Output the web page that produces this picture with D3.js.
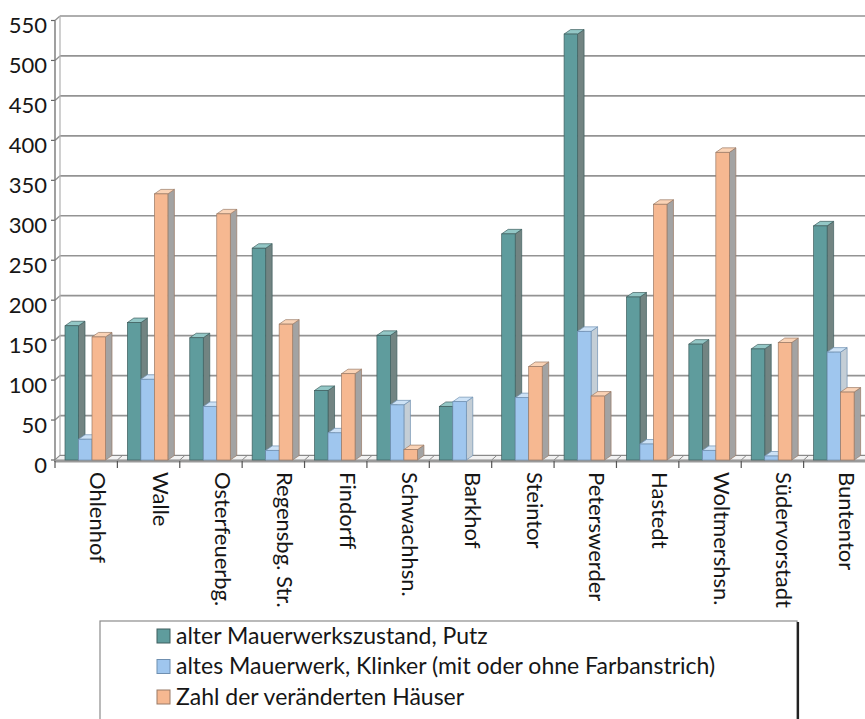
<!DOCTYPE html>
<html>
<head>
<meta charset="utf-8">
<script src="https://cdn.jsdelivr.net/npm/d3@7/dist/d3.min.js"></script>
<style>
  html, body { margin: 0; padding: 0; background: #fff; }
  svg { display: block; }
  text { font-family: Lato, "Open Sans", sans-serif; fill: #161616; }
</style>
</head>
<body>
<svg id="chart" width="865" height="719"></svg>
<script>
// Stadtteile (Bremen) und Anzahl der Häuser je Kategorie
const categories = ["Ohlenhof", "Walle", "Osterfeuerbg.", "Regensbg. Str.", "Findorff",
  "Schwachhsn.", "Barkhof", "Steintor", "Peterswerder", "Hastedt",
  "Woltmershsn.", "Südervorstadt", "Buntentor"];
const putz       = [168, 172, 153, 265,  87, 156, 67, 283, 533, 204, 145, 139, 293];
const klinker    = [ 26, 101,  67,  12,  34,  69, 73,  78, 161,  20,  12,   5, 135];
const veraendert = [154, 333, 308, 170, 108,  13,  0, 117,  80, 320, 385, 147,  85];
const yTicks = [0, 50, 100, 150, 200, 250, 300, 350, 400, 450, 500, 550];
const seriesNames = [
  "alter Mauerwerkszustand, Putz",
  "altes Mauerwerk, Klinker (mit oder ohne Farbanstrich)",
  "Zahl der veränderten Häuser"
];

const series = [
  { name: seriesNames[0], values: putz,
    front: "#5f9c9d", top: "#93c7c6", side: "#728482", edge: "#3f5e5e" },
  { name: seriesNames[1], values: klinker,
    front: "#9fc6ee", top: "#cde2f6", side: "#c4ced6", edge: "#6f8fb0" },
  { name: seriesNames[2], values: veraendert,
    front: "#f6b891", top: "#fad3b6", side: "#a3a3a3", edge: "#9a7a66" }
];

const svg = d3.select("#chart");

// Front plane and depth offsets of the pseudo-3D frame
const wallDx = 5, wallDy = 4.5;   // back wall behind the axis plane
const barDx = 6.5, barDy = 4.5;   // depth of each column
const plotRight = 866;

const y = d3.scaleLinear().domain([0, 550]).range([460, 20.5]);
const x = d3.scaleBand().domain(categories).range([55, plotRight]).padding(0);
const xs = d3.scaleBand().domain(d3.range(series.length)).range([10, 50.5]).padding(0);

// Back wall gridlines plus the short segments on the left side wall
const grid = svg.append("g");
yTicks.forEach(v => {
  const yf = y(v), yb = y(v) - wallDy;
  grid.append("line")
    .attr("x1", 55 + wallDx).attr("x2", 865)
    .attr("y1", yb).attr("y2", yb)
    .attr("stroke", "#939393").attr("stroke-width", 1.7);
  grid.append("line")
    .attr("x1", 55).attr("x2", 55 + wallDx)
    .attr("y1", yf).attr("y2", yb)
    .attr("stroke", "#939393").attr("stroke-width", 1.4);
  grid.append("line")
    .attr("x1", 51).attr("x2", 55)
    .attr("y1", yf).attr("y2", yf)
    .attr("stroke", "#666").attr("stroke-width", 1.2);
});
// Back wall left edge and front axis line
grid.append("line")
  .attr("x1", 55 + wallDx).attr("x2", 55 + wallDx)
  .attr("y1", y(550) - wallDy).attr("y2", y(0) - wallDy)
  .attr("stroke", "#b0b0b0").attr("stroke-width", 1.2);
grid.append("line")
  .attr("x1", 55).attr("x2", 55)
  .attr("y1", y(550)).attr("y2", y(0) + 2)
  .attr("stroke", "#777").attr("stroke-width", 1.4);

// Floor slab
const floor = svg.append("g");
const fy = y(0);
floor.append("path")
  .attr("d", `M55,${fy} L${plotRight},${fy} L${plotRight + wallDx},${fy - wallDy} L${55 + wallDx},${fy - wallDy} Z`)
  .attr("fill", "#f2f2f2").attr("stroke", "#8a8a8a").attr("stroke-width", 1);
floor.append("rect")
  .attr("x", 55).attr("y", fy).attr("width", plotRight - 55).attr("height", 2.5)
  .attr("fill", "#999");
// Category separators on the floor and ticks below
categories.forEach((c, i) => {
  const bx = x(c);
  if (i > 0) {
    floor.append("line")
      .attr("x1", bx).attr("x2", bx + wallDx)
      .attr("y1", fy).attr("y2", fy - wallDy)
      .attr("stroke", "#8a8a8a").attr("stroke-width", 1);
  }
  floor.append("line")
    .attr("x1", bx).attr("x2", bx)
    .attr("y1", fy + 1).attr("y2", fy + 8)
    .attr("stroke", "#555").attr("stroke-width", 1.2);
});

// Columns: front face, top face, right side face
const bars = svg.append("g");
categories.forEach((c, ci) => {
  series.forEach((s, si) => {
    const v = s.values[ci];
    if (!v) return;
    const x0 = x(c) + xs(si), w = xs.bandwidth();
    const yt = y(v), yb = y(0);
    const g = bars.append("g");
    g.append("path")
      .attr("d", `M${x0 + w},${yt} L${x0 + w + barDx},${yt - barDy} L${x0 + w + barDx},${yb - barDy} L${x0 + w},${yb} Z`)
      .attr("fill", s.side).attr("stroke", s.edge).attr("stroke-width", 0.7);
    g.append("path")
      .attr("d", `M${x0},${yt} L${x0 + w},${yt} L${x0 + w + barDx},${yt - barDy} L${x0 + barDx},${yt - barDy} Z`)
      .attr("fill", s.top).attr("stroke", s.edge).attr("stroke-width", 0.7);
    g.append("rect")
      .attr("x", x0).attr("y", yt).attr("width", w).attr("height", yb - yt)
      .attr("fill", s.front).attr("stroke", s.edge).attr("stroke-width", 0.7);
  });
});

// Value axis labels
svg.append("g").selectAll("text").data(yTicks).join("text")
  .attr("x", 47).attr("y", d => y(d) + 4)
  .attr("text-anchor", "end").attr("dominant-baseline", "central")
  .attr("font-size", 22)
  .text(d => d);

// Category labels, rotated to read downward
svg.append("g").selectAll("text").data(categories).join("text")
  .attr("transform", d => `translate(${x(d) + x.bandwidth() / 2 + 4},472) rotate(90)`)
  .attr("font-size", 22)
  .text(d => d);

// Legend box with shadow on the right
const lg = svg.append("g");
lg.append("rect").attr("x", 100).attr("y", 621).attr("width", 697).attr("height", 110)
  .attr("fill", "#fff").attr("stroke", "#8c8c8c").attr("stroke-width", 1.2);
lg.append("line").attr("x1", 798).attr("x2", 798).attr("y1", 622).attr("y2", 719)
  .attr("stroke", "#222").attr("stroke-width", 2.2);
series.forEach((s, i) => {
  const cy = 636 + i * 30.5;
  lg.append("rect").attr("x", 157).attr("y", cy - 7).attr("width", 13).attr("height", 14)
    .attr("fill", s.front).attr("stroke", s.edge).attr("stroke-width", 1);
  lg.append("text").attr("x", 176).attr("y", cy + 7.5)
    .attr("font-size", 23)
    .text(s.name);
});
</script>
</body>
</html>
